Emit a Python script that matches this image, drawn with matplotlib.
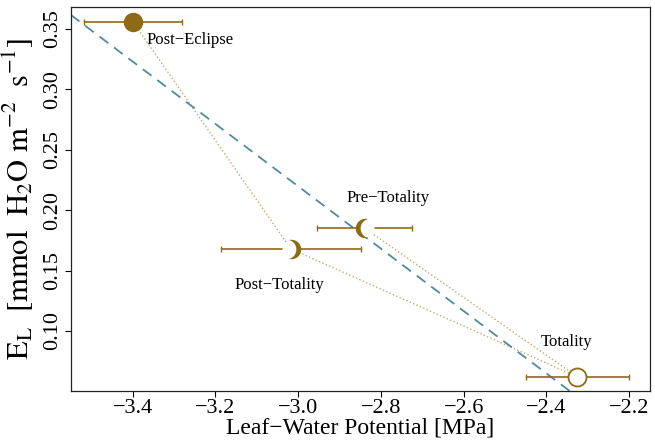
"""Leaf transpiration vs. leaf-water potential across the eclipse phases."""

import numpy as np
import matplotlib
matplotlib.use("Agg")
import matplotlib.pyplot as plt
from matplotlib.path import Path

plt.rcParams["font.family"] = ["Liberation Serif", "DejaVu Serif"]
plt.rcParams["mathtext.fontset"] = "stix"

# data, in path order (Pre -> Totality -> Post -> Post-Eclipse)
phases = ["Pre\u2212Totality", "Totality", "Post\u2212Totality", "Post\u2212Eclipse"]
lwp = [-2.839, -2.325, -3.018, -3.400]          # MPa
lwp_err = [0.115, 0.124, 0.169, 0.118]
el = [0.185, 0.062, 0.168, 0.356]                # mmol H2O m-2 s-1
marker_kind = ["left", "new", "right", "full"]

GOLD = "#8C6A16"
TEAL = "#4F8C98"


def crescent(side, d=0.5):
    """Crescent = unit circle minus a unit circle shifted by d; lit on `side`."""
    yi = np.sqrt(1 - d * d / 4)
    th0 = np.arctan2(yi, d / 2)
    ph0 = np.arctan2(yi, -d / 2)
    t = np.linspace(th0, 2 * np.pi - th0, 60)
    s = np.linspace(2 * np.pi - ph0, ph0, 60)
    outer = np.column_stack([np.cos(t), np.sin(t)])
    inner = np.column_stack([d + np.cos(s), np.sin(s)])
    verts = np.vstack([outer, inner, outer[:1]])
    if side == "right":
        verts[:, 0] *= -1
    codes = [Path.MOVETO] + [Path.LINETO] * (len(verts) - 2) + [Path.CLOSEPOLY]
    return Path(verts, codes)


fig = plt.figure(figsize=(6.55, 4.48), dpi=100)
ax = fig.add_axes([0.108, 0.128, 0.884, 0.856])

ax.set_xlim(-3.55, -2.15)
ax.set_ylim(0.0506, 0.368)

# regression line
slope, icpt = np.polyfit(lwp, el, 1)
xs = np.array(ax.get_xlim())
ax.plot(xs, icpt + slope * xs, color=TEAL, lw=1.3, ls=(0, (6, 4)), zorder=2)

# path between phases
ax.plot(lwp, el, color="#A8842C", alpha=0.7, lw=1.0, ls=":", zorder=1)

ax.errorbar(lwp, el, xerr=lwp_err, fmt="none", ecolor=GOLD, elinewidth=1.2,
            capsize=2, capthick=1, zorder=3)

for x, y, kind in zip(lwp, el, marker_kind):
    ax.plot(x, y, "o", ms=13, mfc="white", mec="none", zorder=4)
    if kind == "full":
        ax.plot(x, y, "o", ms=13, mfc=GOLD, mec=GOLD, zorder=5)
    elif kind == "new":
        ax.plot(x, y, "o", ms=13, mfc="white", mec=GOLD, mew=1.3, zorder=5)
    else:
        ax.plot(x, y, marker=crescent(kind), ms=14, mfc=GOLD, mec="none",
                ls="none", zorder=5)

# labels (offsets in points)
offsets = {
    "Pre\u2212Totality": ((17, 22), "center"),
    "Totality": ((-8, 25), "center"),
    "Post\u2212Totality": ((-8, -26), "center"),
    "Post\u2212Eclipse": ((10, -13), "left"),
}
for name, x, y in zip(phases, lwp, el):
    (dx, dy), ha = offsets[name]
    ax.annotate(name, (x, y), xytext=(dx, dy), textcoords="offset points",
                ha=ha, va="center", fontsize=12)

ax.set_xticks([-3.4, -3.2, -3.0, -2.8, -2.6, -2.4, -2.2])
ax.set_yticks([0.10, 0.15, 0.20, 0.25, 0.30, 0.35])
ax.set_yticklabels([f"{v:.2f}" for v in ax.get_yticks()], rotation=90, va="center")
ax.tick_params(labelsize=16, length=4, width=0.8, pad=2)

ax.set_xlabel("Leaf\u2212Water Potential [MPa]", fontsize=17, labelpad=0)
ax.set_ylabel(r"$\mathrm{E_L\ \ [mmol\ \ H_2O\ m^{-2}\ \ s^{-1}]}$",
              fontsize=22, labelpad=6)

for sp in ax.spines.values():
    sp.set_linewidth(0.9)
    sp.set_color("#222222")

fig.savefig("out.png", dpi=100)
